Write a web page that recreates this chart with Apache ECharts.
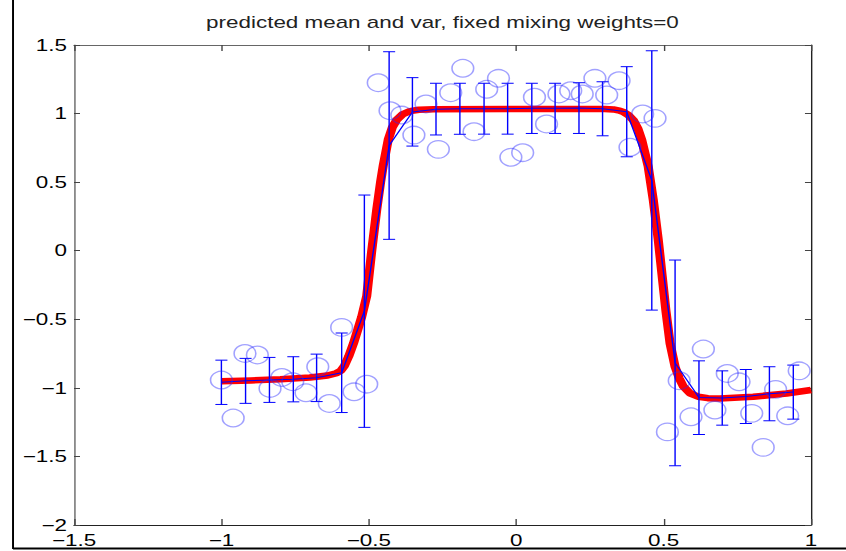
<!DOCTYPE html>
<html>
<head>
<meta charset="utf-8">
<script src="https://cdn.jsdelivr.net/npm/echarts@6/dist/echarts.min.js"></script>
<style>
  html, body { margin: 0; padding: 0; background: #fff; overflow: hidden; }
  #c { width: 604px; height: 551px; transform: scaleX(1.40066); transform-origin: 0 0; }
</style>
</head>
<body>
<div id="c"></div>
<script>
// ---- data ----
const titleText = 'predicted mean and var, fixed mixing weights=0';
const xTicks = [-1.5, -1, -0.5, 0, 0.5, 1];
const yTicks = [-2, -1.5, -1, -0.5, 0, 0.5, 1, 1.5];

// observed points (circles)
const pointsX = [-1.0, -0.96, -0.92, -0.878, -0.835, -0.795, -0.758, -0.713, -0.673, -0.634,
  -0.592, -0.55, -0.507, -0.468, -0.428, -0.388, -0.347, -0.306, -0.264, -0.222,
  -0.181, -0.143, -0.1, -0.06, -0.018, 0.022, 0.062, 0.103, 0.145, 0.185,
  0.224, 0.267, 0.307, 0.349, 0.386, 0.429, 0.471, 0.513, 0.553, 0.593,
  0.635, 0.674, 0.716, 0.756, 0.799, 0.838, 0.880, 0.921, 0.960, 1.002];
const pointsY = [-0.943, -1.22, -0.749, -0.76, -1.004, -0.924, -0.955, -1.036, -0.846, -1.114,
  -0.559, -1.029, -0.973, 1.225, 1.021, 0.989, 0.843, 1.070, 0.739, 1.152,
  1.330, 0.868, 1.177, 1.257, 0.681, 0.715, 1.119, 0.924, 1.143, 1.167,
  1.143, 1.257, 1.135, 1.240, 0.754, 0.997, 0.965, -1.321, -0.948, -1.211,
  -0.717, -1.162, -0.895, -0.956, -1.186, -1.434, -1.011, -1.204, -0.876, -0.900];

// error bars (predicted mean +/- spread)
const barX = [-1.0, -0.918, -0.837, -0.756, -0.677, -0.592, -0.515, -0.431, -0.352, -0.272,
  -0.191, -0.109, -0.029, 0.053, 0.132, 0.213, 0.293, 0.375, 0.46, 0.539,
  0.62, 0.699, 0.779, 0.859, 0.94];
const barMean = [-0.96, -0.949, -0.942, -0.938, -0.927, -0.89, -0.441, 0.767, 1.012, 1.032,
  1.035, 1.035, 1.035, 1.038, 1.038, 1.04, 1.035, 1.013, 0.512, -0.818,
  -1.07, -1.074, -1.063, -1.043, -1.031];
const barTop = [-0.798, -0.785, -0.778, -0.773, -0.754, -0.60, 0.406, 1.451, 1.262, 1.221,
  1.221, 1.221, 1.221, 1.221, 1.221, 1.225, 1.232, 1.342, 1.458, -0.068,
  -0.803, -0.876, -0.866, -0.846, -0.834];
const barBottom = [-1.121, -1.113, -1.106, -1.102, -1.10, -1.18, -1.288, 0.083, 0.763, 0.844,
  0.849, 0.85, 0.85, 0.855, 0.855, 0.855, 0.838, 0.685, -0.433, -1.568,
  -1.34, -1.272, -1.26, -1.24, -1.228];

// predicted mean curve (thick red)
const meanX = [-1.0, -0.9, -0.8, -0.7, -0.64, -0.61, -0.595, -0.583, -0.568, -0.552,
  -0.538, -0.524, -0.507, -0.49, -0.473, -0.46, -0.451, -0.434, -0.42, -0.405,
  -0.385, -0.36, -0.33, -0.28, 0.0, 0.3, 0.33, 0.35, 0.365, 0.38,
  0.397, 0.413, 0.426, 0.448, 0.465, 0.482, 0.495, 0.508, 0.522, 0.539,
  0.553, 0.567, 0.59, 0.618, 0.65, 0.691, 0.804, 0.917, 1.0];
const meanY = [-0.952, -0.946, -0.938, -0.925, -0.91, -0.893, -0.875, -0.84, -0.77, -0.676,
  -0.58, -0.482, -0.33, 0.0, 0.30, 0.50, 0.62, 0.81, 0.90, 0.955,
  0.995, 1.018, 1.028, 1.032, 1.034, 1.034, 1.03, 1.022, 1.01, 0.99,
  0.953, 0.89, 0.807, 0.612, 0.37, 0.078, -0.18, -0.44, -0.676, -0.846,
  -0.93, -0.99, -1.04, -1.065, -1.075, -1.077, -1.065, -1.041, -1.016];

// ---- chart ----
const FONT = 'Liberation Sans, Arial, Helvetica, sans-serif';
const fmt = v => String(v).replace('-', '\u2212');
const zip = (a, b) => a.map((v, i) => [v, b[i]]);

const chart = echarts.init(document.getElementById('c'), null, { renderer: 'svg' });

function axisCommon(extra) {
  return Object.assign({
    type: 'value',
    splitLine: { show: false },
    axisLine: { show: true, onZero: false, lineStyle: { color: '#222', width: 1 } },
    axisTick: { show: true, inside: true, length: 6, lineStyle: { color: '#444', width: 1 } },
    axisLabel: { show: false }
  }, extra);
}

const option = {
  animation: false,
  backgroundColor: '#fff',
  grid: { left: 52.83, right: 25, top: 45, bottom: 26, containLabel: false },
  xAxis: [
    axisCommon({
      min: xTicks[0], max: xTicks[xTicks.length - 1], interval: 0.5, position: 'bottom',
      axisLabel: { show: true, formatter: fmt, fontFamily: FONT, fontSize: 16, color: '#000',
        margin: 7, showMinLabel: true, showMaxLabel: true, hideOverlap: false }
    }),
    axisCommon({
      min: xTicks[0], max: xTicks[xTicks.length - 1], interval: 0.5, position: 'top',
      axisLine: { show: true, onZero: false, lineStyle: { color: '#666', width: 1 } }
    })
  ],
  yAxis: [
    axisCommon({
      min: yTicks[0], max: yTicks[yTicks.length - 1], interval: 0.5, position: 'left',
      axisLine: { show: true, onZero: false, lineStyle: { color: '#666', width: 1 } },
      axisTick: { show: true, inside: true, length: 4.3, lineStyle: { color: '#444', width: 1 } },
      axisLabel: { show: true, formatter: fmt, fontFamily: FONT, fontSize: 16, color: '#000',
        margin: 5, showMinLabel: true, showMaxLabel: true, hideOverlap: false }
    }),
    axisCommon({
      min: yTicks[0], max: yTicks[yTicks.length - 1], interval: 0.5, position: 'right',
      axisTick: { show: true, inside: true, length: 4.3, lineStyle: { color: '#444', width: 1 } }
    })
  ],
  series: [
    {
      type: 'line', name: 'mean', data: zip(meanX, meanY), symbol: 'none', smooth: false,
      lineStyle: { color: '#ff0000', width: 6.5, cap: 'butt', join: 'round' },
      z: 2, silent: true
    },
    {
      type: 'line', name: 'bar centres', data: zip(barX, barMean), symbol: 'none',
      lineStyle: { color: '#0000ff', width: 1 }, z: 3, silent: true
    },
    {
      type: 'custom', name: 'error bars',
      data: barX.map((x, i) => [x, barTop[i], barBottom[i]]),
      renderItem: function (params, api) {
        const x = api.value(0);
        const pHi = api.coord([x, api.value(1)]);
        const pLo = api.coord([x, api.value(2)]);
        const hw = 4.3;
        const st = { stroke: '#0000ff', lineWidth: 1, fill: null };
        return {
          type: 'group',
          children: [
            { type: 'line', shape: { x1: pHi[0], y1: pHi[1], x2: pLo[0], y2: pLo[1] }, style: st },
            { type: 'line', shape: { x1: pHi[0] - hw, y1: pHi[1], x2: pHi[0] + hw, y2: pHi[1] }, style: st },
            { type: 'line', shape: { x1: pLo[0] - hw, y1: pLo[1], x2: pLo[0] + hw, y2: pLo[1] }, style: st }
          ]
        };
      },
      z: 4, silent: true
    },
    {
      type: 'scatter', name: 'data', data: zip(pointsX, pointsY),
      symbol: 'circle', symbolSize: [15.5, 17.5],
      itemStyle: { color: 'rgba(0,0,0,0)', borderColor: 'rgba(40,40,255,0.55)', borderWidth: 1.2 },
      z: 5, silent: true
    }
  ],
  graphic: [
    {
      type: 'text', x: 315.9, y: 22, silent: true,
      style: { text: titleText, fill: '#222', fontFamily: FONT, fontSize: 16,
        textAlign: 'center', textVerticalAlign: 'middle' }
    },
    {
      type: 'line', silent: true,
      shape: { x1: 9.3, y1: 0, x2: 9.3, y2: 549 },
      style: { stroke: '#000', lineWidth: 1.4 }
    },
    {
      type: 'line', silent: true,
      shape: { x1: 9.3, y1: 548.5, x2: 604, y2: 548.5 },
      style: { stroke: '#000', lineWidth: 2 }
    }
  ]
};

chart.setOption(option);
</script>
</body>
</html>
